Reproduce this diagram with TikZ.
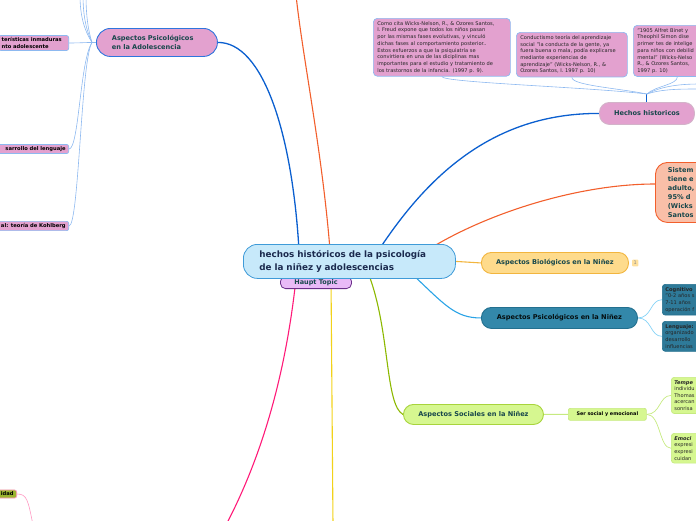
\documentclass[tikz,border=0pt]{standalone}
\usepackage{fontspec}
\setmainfont{DejaVu Sans}
\usetikzlibrary{positioning,backgrounds,calc}

\definecolor{rosa}{HTML}{E3A1CF}
\definecolor{azulclaro}{HTML}{8DB9F0}
\definecolor{azulborde}{HTML}{2F75DD}
\definecolor{azulrama}{HTML}{0B5FCF}
\definecolor{celeste}{HTML}{C7E9FA}
\definecolor{celestebd}{HTML}{3F9BD8}
\definecolor{cielo}{HTML}{2AA3E6}
\definecolor{cieloclaro}{HTML}{86D3F6}
\definecolor{tinta}{HTML}{17474B}
\definecolor{marino}{HTML}{1B2A4E}
\definecolor{lila}{HTML}{E9BAF7}
\definecolor{lilabd}{HTML}{6B2F8A}
\definecolor{salmon}{HTML}{F9BFA8}
\definecolor{naranja}{HTML}{F25F2C}
\definecolor{amarillo}{HTML}{FEDB8C}
\definecolor{amarillobd}{HTML}{F2B53E}
\definecolor{petroleo}{HTML}{3388AA}
\definecolor{petroleobd}{HTML}{23708F}
\definecolor{lima}{HTML}{D6F790}
\definecolor{limabd}{HTML}{A8D43C}
\definecolor{limaclaro}{HTML}{C6EA80}
\definecolor{oliva}{HTML}{8CB800}
\definecolor{fucsia}{HTML}{FF1A78}
\definecolor{oro}{HTML}{F2D21A}
\definecolor{musgo}{HTML}{9BB52E}

\begin{document}
\begin{tikzpicture}[x=1pt,y=-1pt,
    rama/.style={line width=1.3pt},
    hilo/.style={draw=azulclaro, line width=0.6pt},
    tema/.style={rounded corners=10pt, line width=0.9pt, inner sep=0pt,
        font=\bfseries\fontsize{6.6}{9}\selectfont, text=tinta, anchor=north west},
    nota/.style={draw=azulclaro, fill=rosa, rounded corners=4pt, line width=0.7pt,
        font=\fontsize{5.1}{6.7}\selectfont, text=black!85, align=left,
        inner xsep=4pt, inner ysep=3pt, anchor=north west},
    hoja/.style={draw=azulclaro, fill=rosa, rounded corners=2pt, line width=0.7pt,
        font=\bfseries\fontsize{5.2}{6.6}\selectfont, inner xsep=3pt, inner ysep=2pt},
    cajita/.style={rounded corners=3pt, line width=0.7pt, anchor=north west,
        font=\fontsize{5.1}{6.6}\selectfont, text=black!85, align=left,
        text width=60pt, inner xsep=3pt, inner ysep=3pt}]
    \useasboundingbox (0,0) rectangle (696,520);
    \clip (0,0) rectangle (696,520);

    % tema central
    \node[draw=lilabd, fill=lila, rounded corners=5pt, line width=0.8pt,
        minimum width=71pt, inner ysep=3pt, anchor=south,
        font=\bfseries\fontsize{6.5}{8}\selectfont, text=tinta] (haupt) at (316,289) {Haupt Topic};
    \node[tema, draw=celestebd, fill=celeste, rounded corners=14pt, line width=0.8pt,
        minimum width=212pt, minimum height=34pt, text width=180pt, align=left,
        font=\bfseries\fontsize{8.8}{13.5}\selectfont, text=marino] (main) at (243,244)
        {hechos históricos de la psicología\\de la niñez y adolescencias};

    % adolescencia
    \node[tema, draw=azulborde, fill=rosa, rounded corners=14pt, minimum width=121pt,
        minimum height=28pt, text width=90pt, align=left] (adol) at (96,28)
        {Aspectos Psicológicos\\en la Adolescencia};
    \node[hoja, anchor=east, text width=64pt, align=left] (inmad) at (69,43)
        {\mbox{terísticas inmaduras}\\nto adolescente};
    \node[hoja, anchor=east, text width=80pt, align=right] (lengadol) at (69,149) {sarrollo del lenguaje};
    \node[hoja, anchor=east, text width=80pt, align=right] (kohl) at (69,226) {al: teoría de Kohlberg};
    \node[hoja, fill=musgo, draw=fucsia!45, anchor=east, text width=40pt, align=right] (idad) at (17,494) {idad};

    % hechos historicos
    \node[tema, draw=rosa!80!black!60, fill=rosa, minimum width=95pt, minimum height=22pt] (hechos) at (599,102)
        {Hechos historicos};
    \node[nota, text width=129pt] (freud) at (373,18)
        {Como cita Wicks-Nelson, R., \& Ozores Santos,\\
         I. Freud expone que todos los niños pasan\\
         por las mismas fases evolutivas, y vinculó\\
         dichas fases al comportamiento posterior..\\
         Estos esfuerzos a que la psiquiatría se\\
         convirtiera en una de las diciplinas mas\\
         importantes para el estudio y tratamiento de\\
         los trastornos de la infancia. (1997 p. 9).};
    \node[nota, text width=103pt] (conduct) at (516,32)
        {Conductismo teoría del aprendizaje\\
         social "la conducta de la gente, ya\\
         fuera buena o mala, podía explicarse\\
         mediante experiencias de\\
         aprendizaje" (Wicks-Nelson, R., \&\\
         Ozores Santos, I. 1997 p. 10)};
    \node[nota, text width=80pt] (binet) at (633,25)
        {"1905 Alfret Binet y\\
         Theophil Simon dise\\
         primer tes de intelige\\
         para niños con debilid\\
         mental" (Wicks-Nelso\\
         R., \& Ozores Santos,\\
         1997 p. 10)};

    % sistema
    \node[tema, draw=naranja, fill=salmon, rounded corners=12pt, minimum width=85pt,
        minimum height=60pt, text width=60pt, align=left] (sistem) at (655,162)
        {Sistem\\tiene e\\adulto,\\95\% d\\(Wicks\\Santos};

    % niñez
    \node[tema, draw=amarillobd, fill=amarillo, minimum width=147pt, minimum height=21pt] (bio) at (481,252)
        {Aspectos Biológicos en la Niñez};
    \node[fill=amarillo!85, rounded corners=1pt, inner sep=1.6pt, text=black!45,
        font=\fontsize{5}{5}\selectfont, right=3pt of bio] (uno) {1};
    \node[tema, draw=petroleobd, fill=petroleo, text=black!80!tinta, minimum width=156pt, minimum height=21pt] (psin) at (481,307)
        {Aspectos Psicológicos en la Niñez};
    \node[cajita, draw=petroleobd, fill=petroleo!90!black, minimum height=30pt] (cogn) at (662,284)
        {\textbf{Cognitivo}\\"0-2 años s\\7-11 años\\operación f};
    \node[cajita, draw=petroleobd, fill=petroleo!90!black, minimum height=30pt] (leng) at (662,321)
        {\textbf{Lenguaje:}\\organizado\\desarrollo\\influencias};
    \node[tema, draw=limabd, fill=lima, minimum width=140pt, minimum height=20pt] (soc) at (403,404)
        {Aspectos Sociales en la Niñez};
    \node[draw=limaclaro, fill=lima, rounded corners=2pt, line width=0.7pt, anchor=north west,
        minimum width=78pt, minimum height=12pt, inner sep=0pt,
        font=\bfseries\fontsize{4.9}{6}\selectfont] (ser) at (568,408) {Ser social y emocional};
    \node[cajita, draw=limaclaro, fill=lima] (tempe) at (671,377)
        {\textbf{\textit{Tempe}}\\individu\\Thomas\\acercan\\sonrisa};
    \node[cajita, draw=limaclaro, fill=lima] (emoci) at (671,433)
        {\textbf{\textit{Emoci}}\\expresi\\expresi\\cuidan};

    \coordinate (arriba) at (296,-5);
    \coordinate (abajoA) at (333,525);
    \coordinate (abajoB) at (226,525);
    \coordinate (abajoI) at (33,525);
    \coordinate (hubA) at ($(adol.west)+(-4,0)$);
    \coordinate (hubH) at ($(hechos.north)+(0,-8)$);
    \coordinate (arribaA1) at (80,-5);
    \coordinate (arribaA2) at (83,-5);
    \coordinate (arribaA3) at (86,-5);
    \coordinate (derH1) at (700,84);
    \coordinate (derH2) at (700,89);

    % conectores
    \begin{scope}[on background layer]
        \clip (0,0) rectangle (696,520);
        \draw[rama, azulrama] ($(main.north west)+(56,6)$) .. controls (292,130) and (262,42) .. (adol.east);
        \draw[rama, naranja, line width=1.1pt] ($(main.north west)+(87,6)$) .. controls (322,150) and (303,60) .. (arriba);
        \draw[rama, azulrama] ($(main.north east)+(-77,6)$) .. controls (425,180) and (490,113) .. (hechos.west);
        \draw[rama, naranja, line width=1.1pt] ($(main.north east)+(-25,4)$) .. controls (490,212) and (580,184) .. ($(sistem.north west)+(0,22)$);
        \draw[rama, amarillobd, line width=1.1pt] (main.east) -- (bio.west);
        \draw[rama, cielo, line width=1.1pt] ($(main.south east)+(-45,-6)$) .. controls (445,305) and (455,318) .. (psin.west);
        \draw[rama, oliva, line width=1.1pt] ($(main.south east)+(-87,-4)$) .. controls (390,330) and (385,405) .. (soc.west);
        \draw[rama, oro, line width=1.1pt] ($(main.south west)+(88,0)$) -- (abajoA);
        \draw[rama, fucsia, line width=1.1pt] ($(main.south west)+(53,0)$) .. controls (285,380) and (260,460) .. (abajoB);

        \draw[hilo] (adol.west) -- (hubA);
        \draw[hilo] (inmad.east) .. controls +(10,0) and +(-6,0) .. (hubA);
        \draw[hilo] (lengadol.east) .. controls (79,149) and (80,60) .. (hubA);
        \draw[hilo] (kohl.east) .. controls (79,226) and (81,60) .. (hubA);
        \draw[hilo] (hubA) .. controls (84,30) and (80,15) .. (arribaA1);
        \draw[hilo] (hubA) .. controls (86,30) and (83,15) .. (arribaA2);
        \draw[hilo] (hubA) .. controls (88,30) and (86,15) .. (arribaA3);
        \draw[hilo, draw=fucsia!45] (idad.east) .. controls +(10,0) and (28,500) .. (abajoI);

        \draw[rama, azulrama, line width=1pt] (hechos.north) -- (hubH);
        \draw[hilo] (freud.south) .. controls +(0,6) and +(-60,-7) .. (hubH);
        \draw[hilo] (conduct.south) .. controls +(0,8) and +(-30,-6) .. (hubH);
        \draw[hilo] (binet.south) .. controls +(0,8) and +(8,-8) .. (hubH);
        \draw[hilo] (hubH) .. controls +(15,-8) and +(-20,0) .. (derH1);
        \draw[hilo] (hubH) .. controls +(15,-5) and +(-20,0) .. (derH2);

        \draw[draw=cieloclaro, line width=0.7pt] (psin.east) .. controls +(14,0) and +(-12,0) .. (cogn.west);
        \draw[draw=cieloclaro, line width=0.7pt] (psin.east) .. controls +(14,0) and +(-12,0) .. (leng.west);
        \draw[draw=limaclaro, line width=1pt] (soc.east) -- (ser.west);
        \draw[draw=limaclaro, line width=0.7pt] (ser.east) .. controls +(14,0) and +(-12,0) .. (tempe.west);
        \draw[draw=limaclaro, line width=0.7pt] (ser.east) .. controls +(14,0) and +(-12,0) .. (emoci.west);
    \end{scope}
\end{tikzpicture}
\end{document}
